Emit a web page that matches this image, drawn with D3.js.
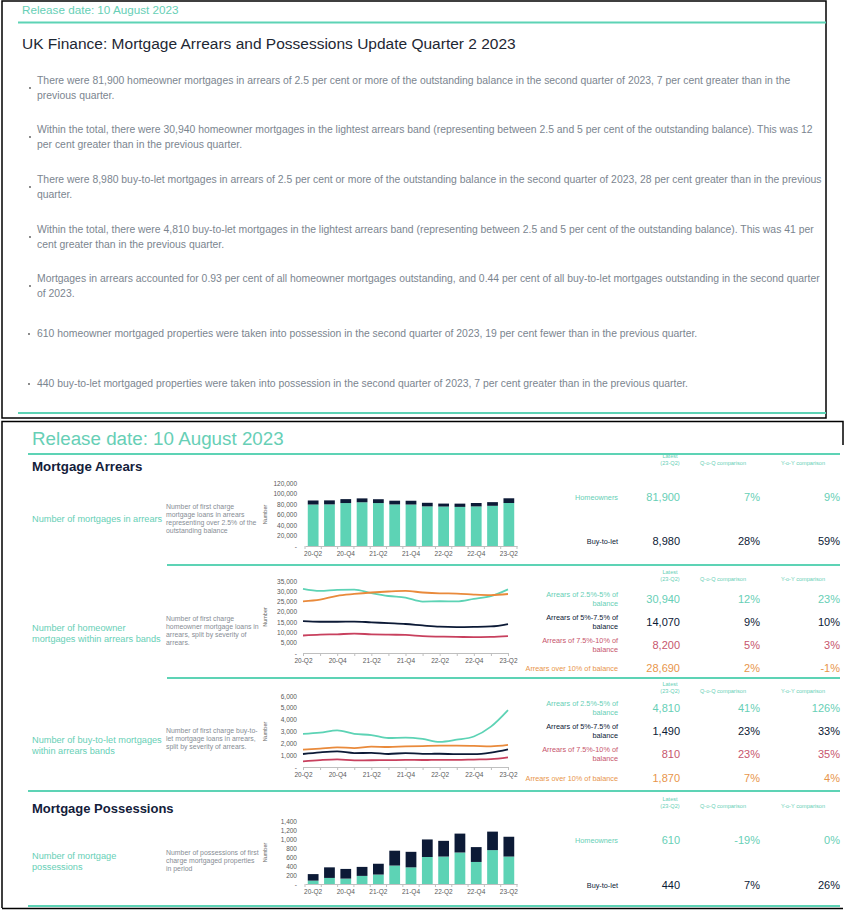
<!DOCTYPE html>
<html>
<head>
<meta charset="utf-8">
<script src="https://cdn.jsdelivr.net/npm/d3@7"></script>
<style>
body{margin:0;background:#fff;}
svg text{font-family:"Liberation Sans",Arial,sans-serif;}
.axis path,.axis line{stroke:#bfbfbf;}
.axis text{fill:#595959;font-size:6.5px;}
</style>
</head>
<body>
<div id="chart"></div>
<script>
// data
var quarters = ["20-Q2","20-Q3","20-Q4","21-Q1","21-Q2","21-Q3","21-Q4","22-Q1","22-Q2","22-Q3","22-Q4","23-Q1","23-Q2"];

var arrearsHomeowner = [79000,79300,81800,83300,81800,79200,79000,75500,75140,74500,75400,76540,81900];
var arrearsBtl = [7700,7600,7500,7400,7300,7100,7200,6800,5650,6200,6500,7000,8980];

var hoBand25 = [31200,30200,30700,30800,29100,27700,26900,25000,25150,25100,26300,27630,30940];
var hoBand5 = [15500,15200,15200,15300,14900,14500,14100,13400,12790,12600,12700,12910,14070];
var hoBand75 = [8500,8900,9100,9400,9100,8900,8800,8200,7960,7800,7750,7810,8200];
var hoBand10 = [25100,25900,27800,28700,29400,29900,30200,29400,28980,28900,28400,28130,28690];

var btlBand25 = [2800,2900,3100,2800,2700,2450,2480,2370,2128,2310,2580,3411,4810];
var btlBand5 = [1100,1240,1320,1180,1190,1100,1180,1110,1120,1080,1080,1211,1490];
var btlBand75 = [480,580,640,560,570,580,600,590,600,600,630,659,810];
var btlBand10 = [1460,1560,1660,1600,1720,1690,1740,1770,1798,1800,1780,1748,1870];

var possHomeowner = [75,135,120,180,210,410,370,600,610,700,490,753,610];
var possBtl = [145,235,215,200,240,330,345,390,349,420,330,411,440];

var arrearsGroups = ["Homeowners","Buy-to-let"];
var arrearsLatest = ["81,900","8,980"];
var arrearsQoQ = ["7%","28%"];
var arrearsYoY = ["9%","59%"];

var bandLabels = [["Arrears of 2.5%-5% of","balance"],["Arrears of 5%-7.5% of","balance"],["Arrears of 7.5%-10% of","balance"],["Arrears over 10% of balance"]];
var hoBandLatest = ["30,940","14,070","8,200","28,690"];
var hoBandQoQ = ["12%","9%","5%","2%"];
var hoBandYoY = ["23%","10%","3%","-1%"];
var btlBandLatest = ["4,810","1,490","810","1,870"];
var btlBandQoQ = ["41%","23%","23%","7%"];
var btlBandYoY = ["126%","33%","35%","4%"];

var possGroups = ["Homeowners","Buy-to-let"];
var possLatest = ["610","440"];
var possQoQ = ["-19%","7%"];
var possYoY = ["0%","26%"];

var bullets = [
  ["There were 81,900 homeowner mortgages in arrears of 2.5 per cent or more of the outstanding balance in the second quarter of 2023, 7 per cent greater than in the","previous quarter."],
  ["Within the total, there were 30,940 homeowner mortgages in the lightest arrears band  (representing between 2.5 and 5 per cent of the outstanding balance). This was 12","per cent greater than in the previous quarter."],
  ["There were 8,980 buy-to-let mortgages in arrears of 2.5 per cent or more of the outstanding balance in the second quarter of 2023, 28 per cent greater than in the previous","quarter."],
  ["Within the total, there were 4,810 buy-to-let mortgages in the lightest arrears band  (representing between 2.5 and 5 per cent of the outstanding balance). This was 41 per","cent greater than in the previous quarter."],
  ["Mortgages in arrears accounted for 0.93 per cent of all homeowner mortgages outstanding, and 0.44 per cent of all buy-to-let mortgages outstanding in the second quarter","of 2023."],
  ["610 homeowner mortgaged properties were taken into possession in the second quarter of 2023, 19 per cent fewer than in the previous quarter."],
  ["440 buy-to-let mortgaged properties were taken into possession in the second quarter of 2023, 7 per cent greater than in the previous quarter."]
];
var bulletTops = [80,129,179,229,278,333,383];

var teal = "#5dd3b5", navy = "#0c1a36", pink = "#c8405e", orange = "#e98a3b";
var tealText = "#67cfb6", greyText = "#878d95";
var rowColors = [tealText, navy, "#c7566d", "#e8954b"];

var svg = d3.select("#chart").append("svg")
            .attr("width",844)
            .attr("height",910);

function hline(x0,x1,y,col,w){
  svg.append("line").attr("x1",x0).attr("x2",x1).attr("y1",y).attr("y2",y)
     .attr("stroke",col).attr("stroke-width",w);
}
function label(x,y,txt,size,col,anchor,weight){
  return svg.append("text").attr("x",x).attr("y",y).attr("dy","0.35em")
     .attr("font-size",size).attr("fill",col).attr("text-anchor",anchor||"start")
     .attr("font-weight",weight||"normal").text(txt);
}

// frames
svg.append("rect").attr("x",2).attr("y",1).attr("width",824).attr("height",417)
   .attr("fill","none").attr("stroke","#000").attr("stroke-width",1.5);
svg.append("path").attr("d","M2,908V421.5H843V445").attr("fill","none").attr("stroke","#000").attr("stroke-width",1.5);
hline(2,843,908.5,"#000",1.5);

// top summary
label(22,10,"Release date: 10 August 2023",11.7,tealText);
hline(18,826,22.5,teal,2);
label(22,44,"UK Finance: Mortgage Arrears and Possessions Update Quarter 2 2023",15.5,"#1e2733");
bullets.forEach(function(lines,i){
  lines.forEach(function(t,j){ label(37,bulletTops[i]+j*15,t,10.4,"#7b858f"); });
  var dy = lines.length>1 ? 8 : 1;
  svg.append("circle").attr("cx",lines.length>1?30:29).attr("cy",bulletTops[i]+dy).attr("r",0.9).attr("fill","#555");
});
hline(18,826,413,teal,2);

// dashboard
label(32,438,"Release date: 10 August 2023",18.8,tealText);
hline(28,840,454,teal,2);
label(32,466,"Mortgage Arrears",13.3,"#13203a","start","bold");
hline(167,840,565,teal,2);
hline(167,840,678,teal,2);
hline(28,840,791,teal,2);
label(32,808,"Mortgage Possessions",13,"#13203a","start","bold");
hline(28,840,906,teal,2);

var sectionLabels = [["Number of mortgages in arrears"],["Number of homeowner","mortgages within arrears bands"],["Number of buy-to-let mortgages","within arrears bands"],["Number of mortgage","possessions"]];
var sectionLabelY = [519,628,740,856];
var sectionNotes = [["Number of first charge","mortgage loans in arrears","representing over 2.5% of the","outstanding balance"],["Number of first charge","homeowner mortgage loans in","arrears, split by severity of","arrears."],["Number of first charge buy-to-","let mortgage loans in arrears,","split by severity of arrears."],["Number of possessions of first","charge mortgaged properties","in period"]];
var sectionNoteY = [507,619,731,853];

sectionLabels.forEach(function(lines,i){
  lines.forEach(function(t,j){ label(32,sectionLabelY[i]+j*11,t,9.2,tealText); });
  sectionNotes[i].forEach(function(t,j){ label(166,sectionNoteY[i]+j*7.8,t,6.9,greyText); });
});

function yFmt(d){ return d===0 ? "-" : d3.format(",")(d); }

function yAxis(y,yMax,yStep,xPos,midY){
  svg.append("g").attr("class","axis").attr("transform","translate("+xPos+",0)")
     .call(d3.axisLeft(y).tickValues(d3.range(0,yMax+1,yStep)).tickSize(0).tickPadding(1).tickFormat(yFmt))
     .select(".domain").remove();
  svg.append("text").attr("transform","translate(267,"+midY+") rotate(-90)")
     .attr("text-anchor","middle").attr("font-size",5.5).attr("fill","#666").text("Number");
}

function barChart(ho,btl,yMax,yStep,yBase,yTop){
  var x = d3.scaleBand().domain(quarters).range([305,517]).paddingInner(0.34).paddingOuter(0.17);
  var y = d3.scaleLinear().domain([0,yMax]).range([yBase,yTop]);
  var rows = quarters.map(function(q,i){ return {q:q, ho:ho[i], btl:btl[i]}; });
  var series = d3.stack().keys(["ho","btl"])(rows);
  svg.append("g").selectAll("g").data(series).enter().append("g")
     .attr("fill",function(d,i){ return i===0 ? teal : navy; })
     .selectAll("rect").data(function(d){ return d; }).enter().append("rect")
     .attr("x",function(d){ return x(d.data.q); })
     .attr("width",x.bandwidth())
     .attr("y",function(d){ return y(d[1]); })
     .attr("height",function(d){ return y(d[0])-y(d[1]); });
  yAxis(y,yMax,yStep,298,(yBase+yTop)/2);
  svg.append("g").attr("class","axis").attr("transform","translate(0,"+yBase+")")
     .call(d3.axisBottom(x).tickSize(0).tickSizeOuter(0).tickPadding(5)
       .tickFormat(function(d,i){ return i%2===0 ? d : ""; }));
  svg.append("g").selectAll("line").data(d3.range(quarters.length+1)).enter().append("line")
     .attr("x1",function(i){ return 305+i*x.step(); })
     .attr("x2",function(i){ return 305+i*x.step(); })
     .attr("y1",yBase).attr("y2",yBase+3).attr("stroke","#bfbfbf");
}

function lineChart(list,colors,yMax,yStep,yBase,yTop){
  var x = d3.scalePoint().domain(quarters).range([303,508]);
  var y = d3.scaleLinear().domain([0,yMax]).range([yBase,yTop]);
  yAxis(y,yMax,yStep,298,(yBase+yTop)/2);
  svg.append("g").attr("class","axis").attr("transform","translate(0,"+yBase+")")
     .call(d3.axisBottom(x).tickSize(3).tickSizeOuter(0).tickPadding(2)
       .tickFormat(function(d,i){ return i%2===0 ? d : ""; }));
  var line = d3.line().x(function(d,i){ return x(quarters[i]); }).y(function(d){ return y(d); })
               .curve(d3.curveMonotoneX);
  svg.append("g").selectAll("path").data(list).enter().append("path")
     .attr("d",line).attr("fill","none").attr("stroke-width",1.8)
     .attr("stroke",function(d,i){ return colors[i]; });
}

barChart(arrearsHomeowner,arrearsBtl,120000,20000,546,483);
lineChart([hoBand25,hoBand10,hoBand5,hoBand75],[teal,orange,navy,pink],35000,5000,653,581);
lineChart([btlBand25,btlBand10,btlBand5,btlBand75],[teal,orange,navy,pink],6000,1000,767,696);
barChart(possHomeowner,possBtl,1400,200,884,821);

function table(headY,labels,colors,latest,qoq,yoy,rowY){
  label(670,headY,"Latest",5.6,tealText,"middle");
  label(670,headY+7,"(23-Q2)",5.6,tealText,"middle");
  label(723,headY+7,"Q-o-Q comparison",5.6,tealText,"middle");
  label(803,headY+7,"Y-o-Y comparison",5.6,tealText,"middle");
  labels.forEach(function(lines,i){
    var c = colors[i];
    if (typeof lines === "string") lines = [lines];
    lines.forEach(function(t,j){
      label(618,rowY[i]+(lines.length>1 ? (j===0?-4.2:4.2) : 0),t,7.3,c,"end");
    });
    label(680,rowY[i],latest[i],11,c,"end");
    label(760,rowY[i],qoq[i],11,c,"end");
    label(840,rowY[i],yoy[i],11,c,"end");
  });
}

table(456,arrearsGroups,[tealText,navy],arrearsLatest,arrearsQoQ,arrearsYoY,[497,541]);
table(572,bandLabels,rowColors,hoBandLatest,hoBandQoQ,hoBandYoY,[599,622,645,668]);
table(684,bandLabels,rowColors,btlBandLatest,btlBandQoQ,btlBandYoY,[708,731,754,778]);
table(799,possGroups,[tealText,navy],possLatest,possQoQ,possYoY,[840,885]);
</script>
</body>
</html>
